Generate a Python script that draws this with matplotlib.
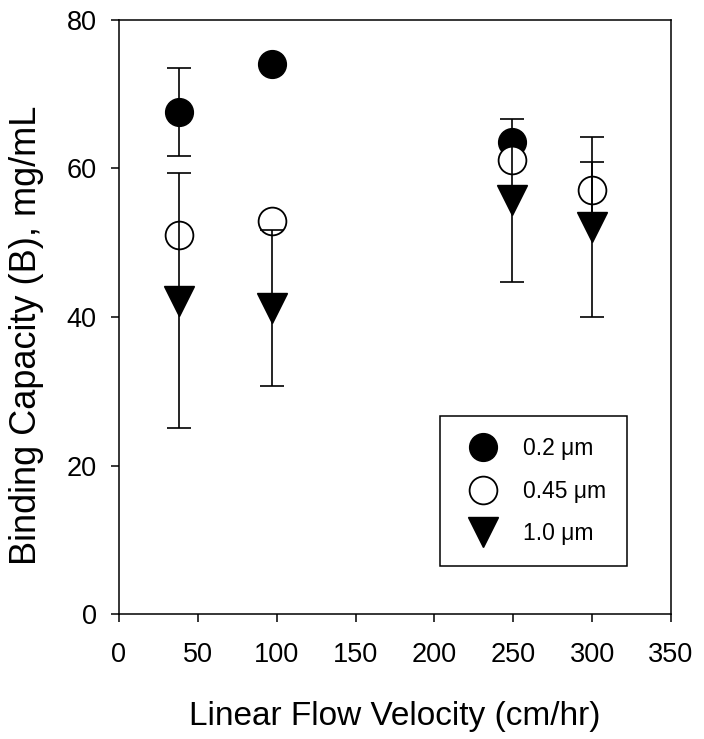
import numpy as np
import matplotlib
matplotlib.use("Agg")
import matplotlib.pyplot as plt

plt.rcParams["font.family"] = ["Liberation Sans", "DejaVu Sans"]

# ---------------------------------------------------------------------------
# Data (binding capacity vs. linear flow velocity)
# ---------------------------------------------------------------------------
x_02 = [38, 97, 249]
y_02 = [67.6, 74.1, 63.6]
e_02 = [5.9, np.nan, np.nan]

x_045 = [38, 97, 249, 300]
y_045 = [51.1, 52.9, 61.1, 57.1]
e_045 = [np.nan, np.nan, np.nan, 3.8]

x_10 = [38, 97, 249, 300]
y_10 = [42.2, 41.2, 55.7, 52.1]
e_10 = [17.2, 10.5, 11.0, 12.1]

labels = ["0.2 \u03bcm", "0.45 \u03bcm", "1.0 \u03bcm"]

# ---------------------------------------------------------------------------
fig = plt.figure(figsize=(7.04, 7.39), dpi=100)
ax = fig.add_axes([119 / 704, 1 - 614 / 739, 552 / 704, 594 / 739])

MS = 20
h1, = ax.plot(x_02, y_02, "o", ms=MS, mfc="black", mec="black", zorder=3,
              label=labels[0])
h2, = ax.plot(x_045, y_045, "o", ms=MS, mfc="white", mec="black", mew=1.3,
              zorder=4, label=labels[1])
h3, = ax.plot(x_10, y_10, "v", ms=22, mfc="black", mec="black", zorder=5,
              label=labels[2])

# error bars drawn over the symbols
for xs, ys, es in [(x_02, y_02, e_02), (x_045, y_045, e_045), (x_10, y_10, e_10)]:
    ax.errorbar(xs, ys, yerr=es, fmt="none", ecolor="black", elinewidth=1.2,
                capsize=8.5, capthick=1.2, zorder=6)

ax.set_xlim(0, 350)
ax.set_ylim(0, 80)
ax.set_xticks(np.arange(0, 351, 50))
ax.set_yticks(np.arange(0, 81, 20))
ax.tick_params(direction="out", length=6, width=1.1, labelsize=19.5,
               top=False, right=False)
ax.tick_params(axis="x", pad=14)
ax.tick_params(axis="y", pad=10)
for spine in ax.spines.values():
    spine.set_linewidth(1.1)

ax.set_xlabel("Linear Flow Velocity (cm/hr)", fontsize=24, labelpad=24)
ax.set_ylabel("Binding Capacity (B), mg/mL", fontsize=26)
ax.yaxis.set_label_coords(-0.136, 0.47)

leg = ax.legend(handles=[h1, h2, h3], loc="upper left",
                bbox_to_anchor=(0.5815, 0.333), borderaxespad=0,
                fontsize=16.5, frameon=True, fancybox=False, framealpha=1,
                edgecolor="black", borderpad=0.92, handlelength=1.9,
                handletextpad=0.8, labelspacing=0.85)
leg.get_frame().set_linewidth(1.1)

fig.savefig("out.png", dpi=100)
